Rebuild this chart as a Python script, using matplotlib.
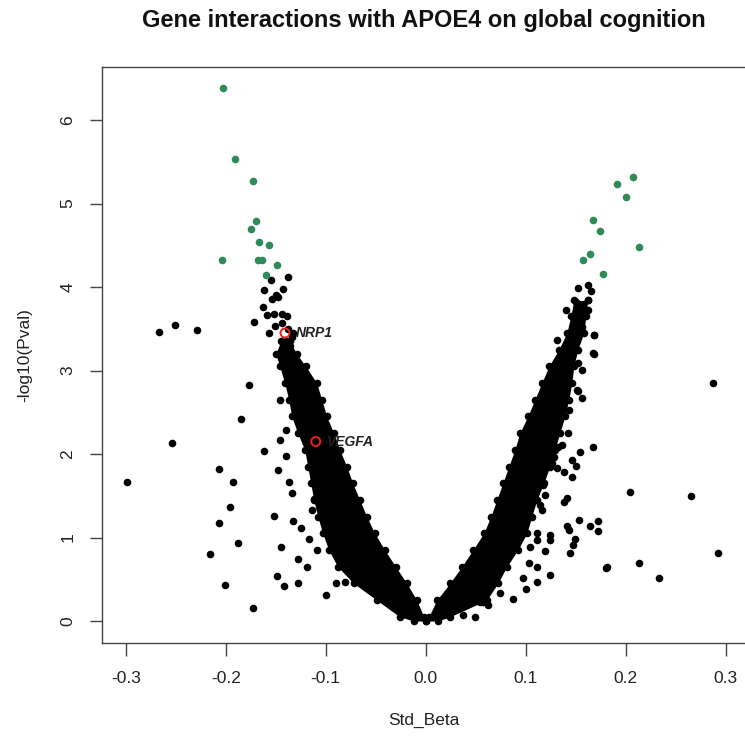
import numpy as np
import matplotlib
matplotlib.use("Agg")
import matplotlib.pyplot as plt

plt.rcParams['font.family'] = ['Liberation Sans', 'DejaVu Sans']

# dense band of the volcano, left arm: -log10(p), outer and inner edge of beta
left_y = [0.0, 0.05, 0.25, 0.45, 0.65, 0.85, 1.05, 1.25, 1.45, 1.65, 1.85,
          2.05, 2.25, 2.45, 2.65, 2.85, 3.05, 3.2, 3.35]
left_out = [-0.012, -0.026, -0.049, -0.072, -0.088, -0.097, -0.103, -0.108,
            -0.112, -0.115, -0.118, -0.121, -0.128, -0.134, -0.137, -0.141,
            -0.146, -0.150, -0.145]
left_in = [0.0, -0.002, -0.009, -0.019, -0.030, -0.041, -0.051, -0.059,
           -0.066, -0.073, -0.079, -0.086, -0.092, -0.099, -0.104, -0.109,
           -0.120, -0.129, -0.136]

# right arm
right_y = [0.0, 0.05, 0.25, 0.45, 0.65, 0.85, 1.05, 1.25, 1.45, 1.65, 1.85,
           2.05, 2.25, 2.45, 2.65, 2.85, 3.05, 3.25, 3.45, 3.65, 3.84]
right_in = [0.0, 0.003, 0.011, 0.024, 0.036, 0.047, 0.058, 0.065, 0.071,
            0.077, 0.083, 0.089, 0.094, 0.102, 0.109, 0.116, 0.123, 0.133,
            0.141, 0.145, 0.148]
right_out = [0.012, 0.024, 0.061, 0.072, 0.081, 0.092, 0.101, 0.106, 0.111,
             0.118, 0.124, 0.129, 0.134, 0.139, 0.143, 0.146, 0.148, 0.152,
             0.158, 0.160, 0.162]

# single genes outside the dense band
other_beta = [-0.2664, -0.2507, -0.229, -0.172, -0.157, -0.1767, -0.1457, -0.185,
              -0.254, -0.1614, -0.2984, -0.2064, -0.193, -0.1957, -0.2067, -0.188,
              -0.2157, -0.2004, -0.1724, -0.152, -0.1447, -0.1487, -0.1414, -0.128,
              -0.100, -0.1324, -0.1247, -0.1277, -0.119, -0.0897, -0.0804, -0.148,
              -0.140, -0.1457, -0.1397, -0.1367, -0.134, -0.114, -0.112, -0.1163,
              -0.109, -0.1127,
              -0.1547, -0.1374, -0.1614, -0.143, -0.150, -0.1474, -0.154, -0.1624,
              -0.159, -0.152, -0.144, -0.139, -0.1507, -0.144, -0.140, -0.136,
              -0.134, -0.138, -0.133,
              0.152, 0.162, 0.1653, 0.150, 0.162, 0.140, 0.162, 0.151, 0.156,
              0.168, 0.168, 0.131, 0.146,
              0.287, 0.2656, 0.2926, 0.2043, 0.2336, 0.2136, 0.181, 0.180,
              0.1676, 0.1676, 0.1686, 0.1566, 0.152, 0.1543, 0.1466, 0.150,
              0.1466, 0.138, 0.142, 0.141, 0.1386, 0.1726, 0.1643, 0.1726,
              0.153, 0.141, 0.1433, 0.1496, 0.147, 0.1443, 0.124, 0.124, 0.119,
              0.111, 0.1116, 0.1043, 0.1036, 0.111, 0.124, 0.111, 0.1003, 0.087,
              0.097, 0.1176, 0.119, 0.1143, 0.116, 0.131, 0.126, 0.1286, 0.1326,
              0.136, 0.156, 0.1526, 0.151, 0.1436, 0.136, 0.1326, 0.049, 0.0376,
              0.0543, 0.0743, 0.0626, 0.0576]
other_logp = [3.46, 3.55, 3.49, 3.58, 3.45, 2.83, 2.65, 2.42,
              2.13, 2.04, 1.66, 1.82, 1.67, 1.37, 1.17, 0.93,
              0.80, 0.43, 0.15, 1.26, 0.89, 0.54, 0.42, 0.45,
              0.31, 1.20, 1.12, 0.74, 0.65, 0.46, 0.47, 1.81,
              1.98, 2.17, 2.29, 1.66, 1.53, 1.33, 1.46, 0.98,
              0.85, 1.67,
              4.08, 4.12, 3.96, 3.98, 3.90, 3.88, 3.86, 3.76,
              3.66, 3.68, 3.68, 3.65, 3.54, 3.57, 3.35, 3.30,
              3.40, 3.50, 3.45,
              3.99, 4.02, 3.95, 3.82, 3.84, 3.72, 3.72, 3.68, 3.52,
              3.43, 3.20, 3.37, 3.45,
              2.85, 1.50, 0.81, 1.55, 0.52, 0.69, 0.65, 0.63,
              2.09, 3.21, 3.43, 2.67, 2.76, 2.03, 1.93, 1.86,
              1.72, 1.78, 2.25, 1.47, 1.42, 1.20, 1.14, 1.08,
              1.21, 1.14, 1.09, 0.98, 0.91, 0.82, 1.03, 0.97, 0.84,
              1.05, 0.97, 0.89, 0.69, 0.65, 0.55, 0.47, 0.38, 0.26,
              0.51, 1.63, 1.51, 1.39, 1.33, 1.83, 1.89, 1.97, 2.09,
              2.11, 3.01, 3.09, 2.77, 2.53, 2.49, 2.35, 0.05, 0.07,
              0.23, 0.33, 0.19, 0.23]

# significant interactions (green)
sig_beta = [-0.2024, -0.1907, -0.173, -0.170, -0.1747, -0.1664, -0.1567, -0.204,
            -0.168, -0.1634, -0.149, -0.160,
            0.2076, 0.191, 0.2003, 0.1676, 0.1743, 0.2133, 0.1643, 0.1576, 0.1776]
sig_logp = [6.38, 5.53, 5.27, 4.79, 4.70, 4.54, 4.50, 4.32,
            4.32, 4.33, 4.26, 4.15,
            5.32, 5.23, 5.08, 4.80, 4.67, 4.48, 4.40, 4.32, 4.16]

# highlighted genes
hl_genes = ['NRP1', 'VEGFA']
hl_beta = [-0.1407, -0.110]
hl_logp = [3.45, 2.15]

fig = plt.figure(figsize=(7.45, 7.38), dpi=100)
ax = fig.add_axes([0.1365, 0.1291, 0.865, 0.7805])

ax.fill_betweenx(left_y, left_out, left_in, color='black', lw=0)
ax.fill_betweenx(right_y, right_in, right_out, color='black', lw=0)
ax.scatter(left_out + left_in, left_y + left_y, s=30, c='black', lw=0)
ax.scatter(right_in + right_out, right_y + right_y, s=30, c='black', lw=0)
ax.scatter(other_beta, other_logp, s=30, c='black', lw=0)
ax.scatter(sig_beta, sig_logp, s=30, c='#2e8b57', lw=0)
ax.scatter(hl_beta, hl_logp, s=42, facecolors='none', edgecolors='#e8231a', lw=1.4, zorder=4)
for g, b, p in zip(hl_genes, hl_beta, hl_logp):
    ax.text(b + 0.011, p, g, fontsize=10, fontweight='bold', fontstyle='italic',
            color='#222222', va='center', ha='left')

ax.set_xlim(-0.324, 0.3203)
ax.set_ylim(-0.26, 6.64)
ax.set_xticks([-0.3, -0.2, -0.1, 0.0, 0.1, 0.2, 0.3])
ax.set_yticks([0, 1, 2, 3, 4, 5, 6])
ax.set_xticklabels(['-0.3', '-0.2', '-0.1', '0.0', '0.1', '0.2', '0.3'])
ax.tick_params(axis='both', direction='out', length=9, width=1, color='#444444',
               labelsize=12.5, labelcolor='#222222')
ax.tick_params(axis='x', pad=11)
ax.tick_params(axis='y', pad=10)
for t in ax.get_yticklabels():
    t.set_rotation(90)
    t.set_va('center')
for s in ax.spines.values():
    s.set_color('#444444')
    s.set_linewidth(1)

ax.set_xlabel('Std_Beta', fontsize=12.5, color='#222222', labelpad=20)
ax.set_ylabel('-log10(Pval)', fontsize=12.5, color='#222222', labelpad=20)
fig.text(424 / 745, 1 - 20 / 738, 'Gene interactions with APOE4 on global cognition',
         ha='center', va='center', fontsize=17, fontweight='bold', color='#111111')

fig.savefig('out.png', dpi=100)
